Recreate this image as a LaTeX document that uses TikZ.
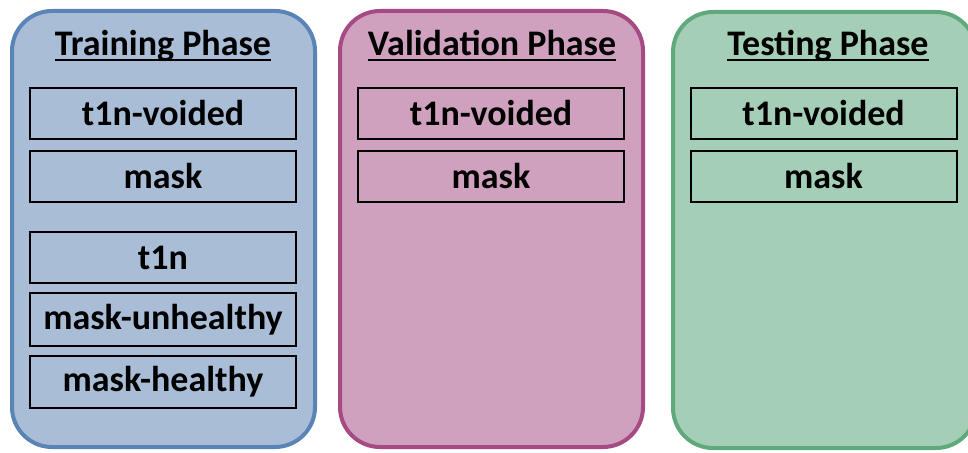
\documentclass[tikz,border=0pt]{standalone}
\usepackage{fontspec}
\setmainfont{Carlito}
\usetikzlibrary{positioning}
\definecolor{trainfill}{RGB}{170,189,215}
\definecolor{traindraw}{RGB}{91,132,182}
\definecolor{validfill}{RGB}{207,161,190}
\definecolor{validdraw}{RGB}{165,74,130}
\definecolor{testfill}{RGB}{164,207,182}
\definecolor{testdraw}{RGB}{96,169,124}
\newcommand\phaseul[1]{\setbox0\hbox{#1}\rlap{\rule[-5.5pt]{\wd0}{2pt}}\box0}
\begin{document}
\begin{tikzpicture}[x=1pt,y=-1pt,
  phase/.style={rectangle,rounded corners=40pt,line width=4pt,
    minimum width=303pt,minimum height=436pt,inner sep=0pt},
  phasetitle/.style={anchor=base,inner sep=0pt,
    font=\fontsize{36}{42}\selectfont\bfseries},
  item/.style={draw,line width=2pt,minimum width=266pt,minimum height=51pt,
    inner sep=0pt,font=\fontsize{36}{42}\selectfont\bfseries},
  node distance=10pt]
\useasboundingbox (0,0) rectangle (968,452);
\clip (0,0) rectangle (968,452);

\node [phase,draw=traindraw,fill=trainfill] (train) at (163.5,229) {};
\node [phase,draw=validdraw,fill=validfill] (valid) at (491.5,229) {};
\node [phase,draw=testdraw,fill=testfill] (test) at (824.5,230) {};

\node [phasetitle] (trainTitle) at (163,56) {\phaseul{Training Phase}};
\node [phasetitle] (validTitle) at (492,56) {\phaseul{Validation Phase}};
\node [phasetitle] (testTitle) at (828,56) {\phaseul{Testing Phase}};

\node [item] (trainVoided) at (163,113.5) {t1n-voided};
\node [item,below=of trainVoided] (trainMask) {mask};
\node [item,below=28pt of trainMask] (trainTone) {t1n};
\node [item,minimum height=53pt,below=8pt of trainTone] (trainUnhealthy) {mask-unhealthy};
\node [item,minimum height=52pt,below=8pt of trainUnhealthy] (trainHealthy) {mask-healthy};

\node [item] (validVoided) at (491,113.5) {t1n-voided};
\node [item,below=of validVoided] (validMask) {mask};

\node [item] (testVoided) at (823.5,113.5) {t1n-voided};
\node [item,below=of testVoided] (testMask) {mask};
\end{tikzpicture}
\end{document}
